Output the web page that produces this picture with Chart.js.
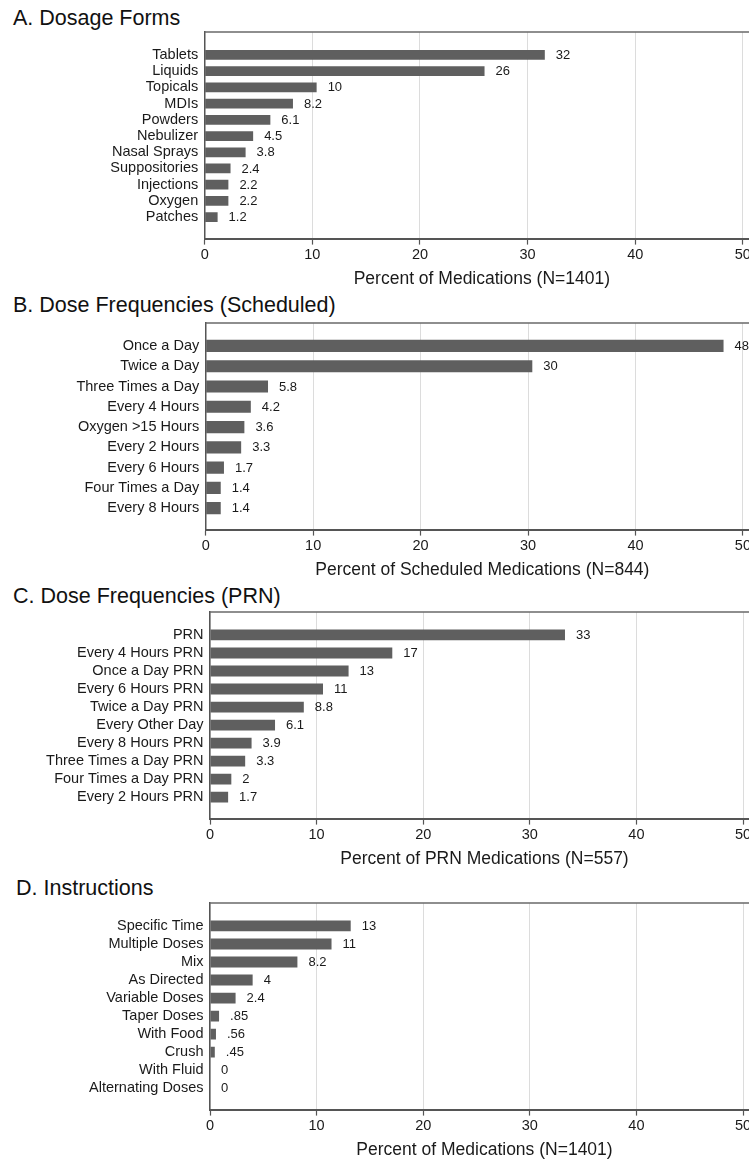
<!DOCTYPE html>
<html>
<head>
<meta charset="utf-8">
<script src="https://cdn.jsdelivr.net/npm/chart.js@4.4.0/dist/chart.umd.min.js"></script>
<style>
  html, body { margin: 0; padding: 0; background: #fff; overflow: hidden; width: 749px; height: 1161px; }
  .panel-title { position: absolute; font-family: "Liberation Sans", Arial, Helvetica, sans-serif; font-size: 21.5px; line-height: 21.5px; color: #111; white-space: nowrap; }
  .chart-box { position: absolute; left: 0; width: 762px; height: 266px; }
</style>
</head>
<body>
<div class="panel-title" style="left:13px; top:8px;">A. Dosage Forms</div>
<div class="chart-box" style="top:26px;"><canvas id="chartA" width="762" height="266"></canvas></div>

<div class="panel-title" style="left:13px; top:295px;">B. Dose Frequencies (Scheduled)</div>
<div class="chart-box" style="top:317px;"><canvas id="chartB" width="762" height="266"></canvas></div>

<div class="panel-title" style="left:13px; top:586px;">C. Dose Frequencies (PRN)</div>
<div class="chart-box" style="top:606px;"><canvas id="chartC" width="762" height="266"></canvas></div>

<div class="panel-title" style="left:16px; top:878px;">D. Instructions</div>
<div class="chart-box" style="top:897px;"><canvas id="chartD" width="762" height="266"></canvas></div>

<script>
const FONT = '"Liberation Sans", Arial, Helvetica, sans-serif';

// data (percent)
const formLabels = ['Tablets', 'Liquids', 'Topicals', 'MDIs', 'Powders', 'Nebulizer', 'Nasal Sprays', 'Suppositories', 'Injections', 'Oxygen', 'Patches'];
const formValues = [31.6, 26.0, 10.4, 8.2, 6.1, 4.5, 3.8, 2.4, 2.2, 2.2, 1.2];

const schedLabels = ['Once a Day', 'Twice a Day', 'Three Times a Day', 'Every 4 Hours', 'Oxygen >15 Hours', 'Every 2 Hours', 'Every 6 Hours', 'Four Times a Day', 'Every 8 Hours'];
const schedValues = [48.2, 30.4, 5.8, 4.2, 3.6, 3.3, 1.7, 1.4, 1.4];

const prnLabels = ['PRN', 'Every 4 Hours PRN', 'Once a Day PRN', 'Every 6 Hours PRN', 'Twice a Day PRN', 'Every Other Day', 'Every 8 Hours PRN', 'Three Times a Day PRN', 'Four Times a Day PRN', 'Every 2 Hours PRN'];
const prnValues = [33.3, 17.1, 13.0, 10.6, 8.8, 6.1, 3.9, 3.3, 2.0, 1.7];

const instrLabels = ['Specific Time', 'Multiple Doses', 'Mix', 'As Directed', 'Variable Doses', 'Taper Doses', 'With Food', 'Crush', 'With Fluid', 'Alternating Doses'];
const instrValues = [13.2, 11.4, 8.2, 4.0, 2.4, 0.85, 0.56, 0.45, 0, 0];

const xTicks = [0, 10, 20, 30, 40, 50];

// stata style label: 2 significant digits, no leading zero
function fmt(v) {
  return String(Number(v.toPrecision(2))).replace(/^0\./, '.');
}

const frameAndValues = {
  id: 'frameAndValues',
  afterDatasetsDraw(chart) {
    const ctx = chart.ctx;
    const ds = chart.data.datasets[0];
    ctx.save();
    ctx.font = '13px ' + FONT;
    ctx.fillStyle = '#1a1a1a';
    ctx.textBaseline = 'middle';
    ctx.textAlign = 'left';
    chart.getDatasetMeta(0).data.forEach((bar, i) => {
      ctx.fillText(fmt(ds.data[i].x), bar.x + 11, bar.y + 0.5);
    });
    ctx.restore();
  },
  afterDraw(chart) {
    const { ctx, chartArea } = chart;
    ctx.save();
    ctx.strokeStyle = '#6a6a6a';
    ctx.lineWidth = 1.5;
    ctx.beginPath();
    ctx.moveTo(chartArea.left, chartArea.top);
    ctx.lineTo(chartArea.right, chartArea.top);
    ctx.lineTo(chartArea.right, chartArea.bottom);
    ctx.stroke();
    ctx.restore();
  }
};

function makeChart(id, labels, values, xTitle, axisWidth) {
  // keep ~23px above the first bar and ~21px below the last one
  const plotH = 207, padTop = 23, padBot = 21.5;
  const step = (plotH - padTop - padBot) / (labels.length - 1);

  return new Chart(document.getElementById(id), {
    type: 'bar',
    data: {
      datasets: [{
        data: values.map((v, i) => ({ x: v, y: i })),
        backgroundColor: '#5f5f5f',
        borderWidth: 0,
        barPercentage: 0.6,
        categoryPercentage: 1
      }]
    },
    plugins: [frameAndValues],
    options: {
      indexAxis: 'y',
      responsive: false,
      animation: false,
      devicePixelRatio: 1,
      layout: { padding: { top: 6, right: 3, left: 0, bottom: 0 } },
      plugins: { legend: { display: false }, tooltip: { enabled: false } },
      scales: {
        x: {
          type: 'linear',
          min: 0,
          max: 51.5,
          afterBuildTicks: (s) => { s.ticks = xTicks.map(v => ({ value: v })); },
          grid: { color: '#dcdcdc', lineWidth: 1, tickLength: 6, tickColor: '#555', tickWidth: 1.2 },
          border: { color: '#555', width: 2 },
          ticks: { padding: 2, color: '#1a1a1a', font: { family: FONT, size: 14.5 } },
          title: { display: true, text: xTitle, color: '#1a1a1a', font: { family: FONT, size: 17.5 }, padding: { top: 3, bottom: 2 } }
        },
        y: {
          type: 'linear',
          reverse: true,
          offset: false,
          min: -padTop / step,
          max: labels.length - 1 + padBot / step,
          afterBuildTicks: (s) => { s.ticks = labels.map((l, i) => ({ value: i })); },
          afterFit: (s) => {
            s.width = axisWidth;
            s.paddingTop = 0;
            s.paddingBottom = 0;
          },
          grid: { display: false, drawTicks: false, offset: false },
          border: { color: '#555', width: 1.5 },
          ticks: {
            autoSkip: false,
            padding: 6.5,
            color: '#1a1a1a',
            font: { family: FONT, size: 14.5 },
            callback: (v) => labels[v]
          }
        }
      }
    }
  });
}

makeChart('chartA', formLabels, formValues, 'Percent of Medications (N=1401)', 204.7);
makeChart('chartB', schedLabels, schedValues, 'Percent of Scheduled Medications (N=844)', 205.7);
makeChart('chartC', prnLabels, prnValues, 'Percent of PRN Medications (N=557)', 210);
makeChart('chartD', instrLabels, instrValues, 'Percent of Medications (N=1401)', 210);
</script>
</body>
</html>
